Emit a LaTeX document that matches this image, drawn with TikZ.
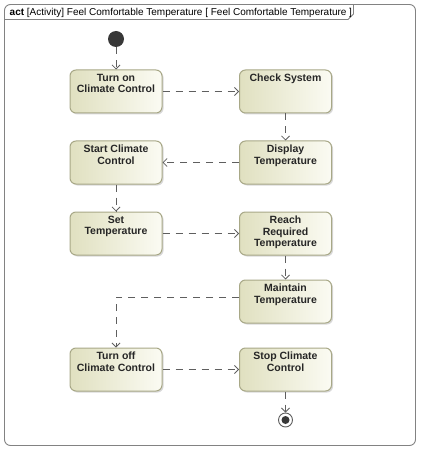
\documentclass[tikz,border=0pt]{standalone}
\usepackage{fontspec}
\setmainfont{Liberation Sans}
\usetikzlibrary{positioning,arrows.meta,shadows}
\definecolor{actedge}{RGB}{168,168,135}
\definecolor{actdark}{RGB}{224,224,192}
\definecolor{actlight}{RGB}{251,251,243}
\definecolor{flowgray}{RGB}{95,95,95}
\definecolor{framegray}{RGB}{130,130,130}
\tikzset{
  action/.style={rectangle,rounded corners=6pt,draw=actedge,line width=1pt,
    left color=actdark,right color=actlight,
    drop shadow={shadow xshift=1.5pt,shadow yshift=-1.5pt,fill=black!25,opacity=0.6},
    inner sep=4pt,font=\bfseries\fontsize{10.5}{11.5}\selectfont,text=black!85},
  flow/.style={-{Straight Barb[length=4pt,width=8pt]},draw=flowgray,line width=0.8pt,
    dash pattern=on 7pt off 6pt},
  initnode/.style={circle,fill=black!78,minimum size=16pt,inner sep=0pt},
  finalnode/.style={circle,draw=flowgray,fill=white,line width=0.9pt,minimum size=14pt,inner sep=0pt,
    path picture={\fill[black!78] (path picture bounding box.center) circle (4pt);}}, % bull's eye
  frm/.style={draw=framegray,line width=0.9pt},
}
\newcommand{\acttxt}[1]{\parbox[c][35pt][t]{84pt}{\centering #1}}

\begin{document}
\begin{tikzpicture}[x=1pt,y=-1pt]
  \useasboundingbox (0,0) rectangle (423,449);
  % diagram frame
  \draw[frm,rounded corners=6pt] (4.5,4.5) rectangle (415.5,445.5);
  \draw[frm] (4.5,19.5) -- (348,19.5) -- (353.5,14) -- (353.5,4.5);
  \node[anchor=west,inner sep=0pt,font=\fontsize{10}{11}\selectfont] (hdr) at (9.5,12.5)
    {\textbf{act} [Activity] Feel Comfortable Temperature [ Feel Comfortable Temperature ]};
  % actions
  \node[initnode] (start) at (116,39) {};
  \node[action] (turnon) at (116,91.5) {\acttxt{Turn on\\Climate Control}};
  \node[action] (check) at (285.5,91.5) {\acttxt{Check System}};
  \node[action] (display) at (285.5,162.5) {\acttxt{Display\\Temperature}};
  \node[action] (startcc) at (116,162.5) {\acttxt{Start Climate\\Control}};
  \node[action] (settemp) at (116,233.5) {\acttxt{Set\\Temperature}};
  \node[action] (reach) at (285.5,233.5) {\acttxt{Reach\\Required\\Temperature}};
  \node[action] (maintain) at (285.5,301.5) {\acttxt{Maintain\\Temperature}};
  \node[action] (turnoff) at (116,369.5) {\acttxt{Turn off\\Climate Control}};
  \node[action] (stopcc) at (285.5,369.5) {\acttxt{Stop Climate\\Control}};
  \node[finalnode] (done) at (285.5,420) {};
  % flows
  \draw[flow] (start) -- (turnon);
  \draw[flow] (turnon) -- (check);
  \draw[flow] (check) -- (display);
  \draw[flow] (display) -- (startcc);
  \draw[flow] (startcc) -- (settemp);
  \draw[flow] (settemp) -- (reach);
  \draw[flow] (reach) -- (maintain);
  \draw[flow] ([yshift=4.5pt]maintain.west) -| (turnoff.north);
  \draw[flow] (turnoff) -- (stopcc);
  \draw[flow] (stopcc) -- (done);
\end{tikzpicture}
\end{document}
